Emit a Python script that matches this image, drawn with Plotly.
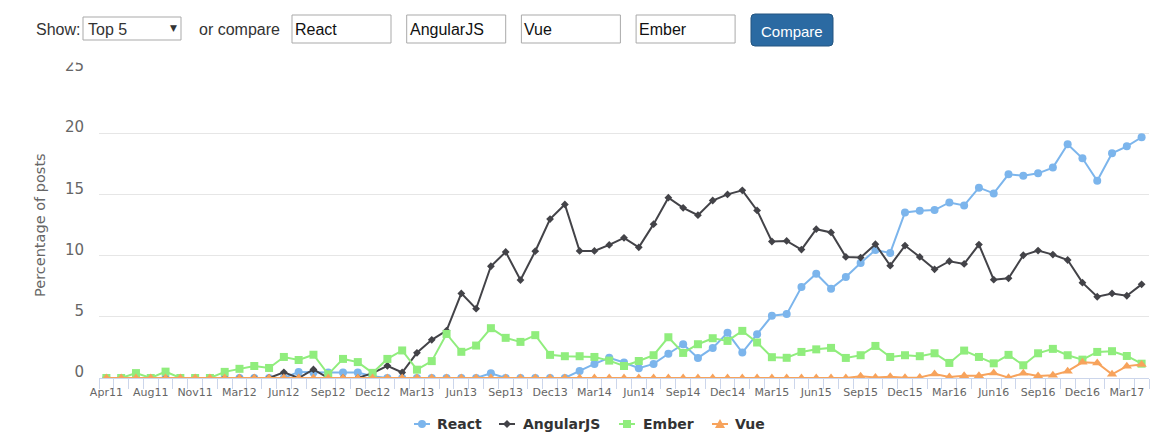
import plotly.graph_objects as go

# months shown on the x axis (Jul11 and Feb12 have no thread)
mon = ["Jan", "Feb", "Mar", "Apr", "May", "Jun", "Jul", "Aug", "Sep", "Oct", "Nov", "Dec"]
months = ["Apr11", "May11", "Jun11", "Aug11", "Sep11", "Oct11", "Nov11", "Dec11", "Jan12"]
months += [m + str(y)[2:] for y in range(2012, 2018) for m in mon][2:64]
tick_labels = months[::3]

react = [0] * 12 + [0, 0.5, 0.45, 0.45, 0.45, 0.45, 0.15] + [0] * 7 + [0.38] + [0] * 5 + [
    0.58, 1.15, 1.65, 1.27, 0.8, 1.15, 1.98, 2.76, 1.64, 2.46, 3.69, 2.08, 3.58,
    5.08, 5.22, 7.43, 8.52, 7.3, 8.25, 9.4, 10.46, 10.22, 13.52, 13.66, 13.72,
    14.34, 14.1, 15.55, 15.08, 16.64, 16.53, 16.72, 17.19, 19.1, 17.95, 16.12,
    18.36, 18.93, 19.67]
angular = [0] * 12 + [
    0.46, 0, 0.7, 0, 0, 0, 0.4, 1.0, 0.45, 2.06, 3.12, 3.87, 6.91, 5.66, 9.13,
    10.3, 8.0, 10.36, 12.98, 14.18, 10.38, 10.38, 10.87, 11.45, 10.68, 12.57,
    14.73, 13.9, 13.3, 14.5, 15.0, 15.33, 13.69, 11.15, 11.2, 10.49, 12.16, 11.89,
    9.89, 9.84, 10.93, 9.18, 10.82, 9.89, 8.88, 9.54, 9.32, 10.9, 8.03, 8.14,
    10.03, 10.41, 10.08, 9.64, 7.79, 6.64, 6.91, 6.72, 7.65]
ember = [0, 0, 0.4, 0, 0.52, 0, 0, 0, 0.5, 0.75, 0.98, 0.82, 1.72, 1.47, 1.9, 0.3,
         1.56, 1.3, 0.42, 1.56, 2.25, 0.68, 1.38, 3.6, 2.14, 2.65, 4.07, 3.28, 2.95,
         3.5, 1.89, 1.78, 1.78, 1.72, 1.42, 0.98, 1.39, 1.86, 3.33, 2.05, 2.76, 3.25,
         3.03, 3.85, 2.9, 1.7, 1.65, 2.13, 2.34, 2.46, 1.64, 1.86, 2.62, 1.72, 1.86,
         1.78, 2.02, 1.23, 2.24, 1.72, 1.2, 1.89, 1.04, 2.02, 2.38, 1.86, 1.5, 2.13,
         2.19, 1.8, 1.17]
vue = [0] * 51 + [0.14, 0.05, 0.1, 0.03, 0.05, 0.33, 0.08, 0.19, 0.19, 0.41, 0.03,
                  0.38, 0.17, 0.22, 0.56, 1.28, 1.22, 0.3, 0.97, 1.1]

compare_terms = ["React", "AngularJS", "Vue", "Ember"]

# page body has an 8px margin, so the figure is 8px smaller than the window
W, H = 1161, 431
L, R, T, B = 91, 20, 64, 61
PW, PH = W - L - R, H - T - B


# page pixel -> paper coords (plot area is at x 99..1149, y 72..378 on the page)
def fx(px):
    return (px - 8 - L) / PW


def fy(py):
    return (H - B - (py - 8)) / PH


x = list(range(len(months)))
fig = go.Figure()
series = [("React", react, "#7cb5ec", "circle", 8),
          ("AngularJS", angular, "#434348", "diamond", 6),
          ("Ember", ember, "#90ed7d", "square", 8),
          ("Vue", vue, "#f7a35c", "triangle-up", 9)]
for name, vals, col, sym, sz in series:
    fig.add_trace(go.Scatter(x=x, y=vals, name=name, text=months, mode="lines+markers",
                             line=dict(color=col, width=2),
                             marker=dict(symbol=sym, size=sz, color=col)))

shapes = []
ann = []
font_ui = dict(family="Liberation Sans, Arial", size=16, color="#333333")

# form controls above the chart
ann.append(dict(x=fx(34), y=fy(29), text="Show:", xanchor="left"))
shapes.append(dict(type="rect", x0=fx(83), x1=fx(181), y0=fy(40), y1=fy(17),
                   line=dict(color="#a9a9a9", width=1), fillcolor="white"))
ann.append(dict(x=fx(86), y=fy(29), text="Top 5", xanchor="left"))
ann.append(dict(x=fx(173), y=fy(28), text="▼", xanchor="center",
                font=dict(size=9, color="#333")))
ann.append(dict(x=fx(197), y=fy(29), text="or compare", xanchor="left"))
for i, term in enumerate(compare_terms):
    x0 = 292 + i * 114.7
    shapes.append(dict(type="rect", x0=fx(x0), x1=fx(x0 + 99), y0=fy(43), y1=fy(15),
                       line=dict(color="#a9a9a9", width=1), fillcolor="white"))
    ann.append(dict(x=fx(x0 + 1), y=fy(29), text=term, xanchor="left",
                    font=dict(family="Liberation Sans, Arial", size=16, color="#111")))

# rounded button
bx0, bx1, by0, by1, rr = 751, 833, 14, 46, 4
pts = f"M{fx(bx0 + rr)},{fy(by0)} L{fx(bx1 - rr)},{fy(by0)} Q{fx(bx1)},{fy(by0)} {fx(bx1)},{fy(by0 + rr)} " \
      f"L{fx(bx1)},{fy(by1 - rr)} Q{fx(bx1)},{fy(by1)} {fx(bx1 - rr)},{fy(by1)} " \
      f"L{fx(bx0 + rr)},{fy(by1)} Q{fx(bx0)},{fy(by1)} {fx(bx0)},{fy(by1 - rr)} " \
      f"L{fx(bx0)},{fy(by0 + rr)} Q{fx(bx0)},{fy(by0)} {fx(bx0 + rr)},{fy(by0)} Z"
shapes.append(dict(type="path", path=pts, fillcolor="#2b6aa2", line=dict(color="#245580", width=1)))
ann.append(dict(x=fx(792), y=fy(31), text="Compare", xanchor="center",
                font=dict(family="Liberation Sans, Arial", size=15, color="white")))

# y axis title
ann.append(dict(x=fx(40), y=fy(225), text="Percentage of posts", textangle=-90, xanchor="center",
                font=dict(family="DejaVu Sans", size=14.5, color="#666666")))

# the top of the "25" label is clipped in the page
shapes.append(dict(type="rect", x0=fx(40), x1=fx(97), y0=fy(62.5), y1=fy(50),
                   fillcolor="white", line=dict(width=0), layer="above"))

# legend drawn by hand (short symbol lines like the original)
leg_y = 424
leg_items = [("React", 414, 435), ("AngularJS", 499, 521), ("Ember", 619, 641), ("Vue", 712, 733)]
for (name, lx, tx), (_, _, col, sym, _) in zip(leg_items, series):
    shapes.append(dict(type="line", x0=fx(lx), x1=fx(lx + 16), y0=fy(leg_y), y1=fy(leg_y),
                       line=dict(color=col, width=2)))
    cx = lx + 8
    if sym == "circle":
        shapes.append(dict(type="circle", x0=fx(cx - 4), x1=fx(cx + 4), y0=fy(leg_y + 4),
                           y1=fy(leg_y - 4), fillcolor=col, line=dict(width=0)))
    elif sym == "square":
        shapes.append(dict(type="rect", x0=fx(cx - 4), x1=fx(cx + 4), y0=fy(leg_y + 4),
                           y1=fy(leg_y - 4), fillcolor=col, line=dict(width=0)))
    elif sym == "diamond":
        p = f"M{fx(cx)},{fy(leg_y - 4)} L{fx(cx + 4)},{fy(leg_y)} L{fx(cx)},{fy(leg_y + 4)} L{fx(cx - 4)},{fy(leg_y)} Z"
        shapes.append(dict(type="path", path=p, fillcolor=col, line=dict(width=0)))
    else:
        p = f"M{fx(cx)},{fy(leg_y - 5)} L{fx(cx + 5)},{fy(leg_y + 4)} L{fx(cx - 5)},{fy(leg_y + 4)} Z"
        shapes.append(dict(type="path", path=p, fillcolor=col, line=dict(width=0)))
    ann.append(dict(x=fx(tx), y=fy(leg_y), text=name, xanchor="left",
                    font=dict(family="DejaVu Sans", size=14, color="#333333", weight="bold")))

for a in ann:
    a.setdefault("font", font_ui)
    a.update(xref="paper", yref="paper", showarrow=False, yanchor="middle")
for s in shapes:
    s.update(xref="paper", yref="paper")

fig.update_layout(
    width=W, height=H,
    margin=dict(l=L, r=R, t=T, b=B, autoexpand=False),
    paper_bgcolor="white", plot_bgcolor="white",
    font=dict(family="DejaVu Sans", color="#666666"),
    shapes=shapes, annotations=ann,
    showlegend=False,
)
fig.update_xaxes(range=[-0.5, len(months) - 0.5], showgrid=False, zeroline=False,
                 showline=True, linecolor="#ccd6eb", linewidth=1,
                 tickmode="array", tickvals=x[::3], ticktext=tick_labels, ticks="",
                 tickfont=dict(size=11, color="#666666"), ticklabelstandoff=4,
                 minor=dict(tick0=-0.5, dtick=1, ticks="outside", ticklen=10,
                            tickcolor="#ccd6eb", tickwidth=1, showgrid=False))
fig.update_yaxes(range=[0, 25], tickvals=[0, 5, 10, 15, 20, 25], showgrid=True,
                 gridcolor="#e6e6e6", gridwidth=1, zeroline=False, showline=False,
                 tickfont=dict(size=15, color="#666666"), ticklabelstandoff=14,
                 ticklabelshift=-6)

fig.write_html("out.html")
